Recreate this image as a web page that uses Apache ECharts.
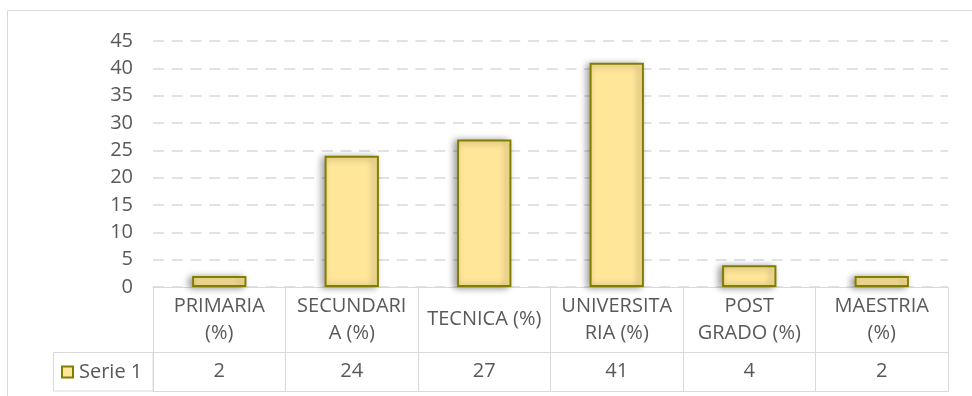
<!DOCTYPE html>
<html>
<head>
<meta charset="utf-8">
<script src="https://cdn.jsdelivr.net/npm/echarts@6/dist/echarts.min.js"></script>
<style>
  html, body { margin: 0; padding: 0; background: #ffffff; }
  #chart { width: 972px; height: 396px; }
</style>
</head>
<body>
<div id="chart"></div>
<script>
// Education level shares (percent) shown as bars with a data table beneath
const categories = ['PRIMARIA\n(%)', 'SECUNDARI\nA (%)', 'TECNICA (%)', 'UNIVERSITA\nRIA (%)', 'POST\nGRADO (%)', 'MAESTRIA\n(%)'];
const values = [2, 24, 27, 41, 4, 2];
const seriesName = 'Serie 1';
const yMin = 0;
const yMax = 45;
const yStep = 5;

// Layout
const gridLeft = 153, gridRight = 24, gridTop = 41, gridBottom = 109;
const headerRow = 65.5, tableHeight = 104;
const keyCellLeft = 53;

const textColor = '#595959';
const lineColor = '#d9d9d9';
const fontFamily = '"Open Sans", sans-serif';
const fontSize = 20;
const barFill = '#ffe699';
const barEdge = '#807f00';

const chart = echarts.init(document.getElementById('chart'), null, { renderer: 'canvas' });
const H = 396;
const axisY = H - gridBottom;

chart.setOption({
  animation: false,
  backgroundColor: '#ffffff',
  textStyle: { fontFamily: fontFamily },
  grid: { left: gridLeft, right: gridRight, top: gridTop, bottom: gridBottom, containLabel: false },
  legend: {
    show: true,
    data: [seriesName],
    left: 61,
    top: 361,
    padding: 0,
    icon: 'rect',
    itemWidth: 11,
    itemHeight: 11,
    itemGap: 0,
    itemStyle: { borderColor: barEdge, borderWidth: 2, shadowBlur: 0, shadowOffsetX: 0, shadowOffsetY: 0 },
    textStyle: { color: textColor, fontSize: fontSize, fontFamily: fontFamily, lineHeight: 22, padding: [0, 0, 0, 1] }
  },
  xAxis: [
    {
      type: 'category',
      data: categories,
      position: 'bottom',
      boundaryGap: true,
      axisLine: { show: true, lineStyle: { color: lineColor, width: 1 } },
      axisTick: { show: true, interval: 0, length: tableHeight, alignWithLabel: false, lineStyle: { color: lineColor, width: 1 } },
      axisLabel: {
        interval: 0, margin: headerRow / 2, verticalAlign: 'middle', align: 'center',
        color: textColor, fontSize: fontSize, lineHeight: 27, fontFamily: fontFamily
      },
      splitLine: { show: false }
    },
    {
      type: 'category',
      data: categories,
      position: 'bottom',
      offset: headerRow,
      axisLine: { show: true, lineStyle: { color: lineColor, width: 1 } },
      axisTick: { show: false },
      axisLabel: {
        interval: 0, margin: (tableHeight - headerRow) / 2, verticalAlign: 'middle', align: 'center',
        color: textColor, fontSize: fontSize, fontFamily: fontFamily,
        formatter: function (v, i) { return String(values[i]); }
      }
    },
    {
      type: 'category',
      data: categories,
      position: 'bottom',
      offset: tableHeight,
      axisLine: { show: true, lineStyle: { color: lineColor, width: 1 } },
      axisTick: { show: false },
      axisLabel: { show: false }
    }
  ],
  yAxis: {
    type: 'value',
    min: yMin,
    max: yMax,
    interval: yStep,
    axisLine: { show: false },
    axisTick: { show: false },
    axisLabel: { color: textColor, fontSize: fontSize, margin: 20, fontFamily: fontFamily },
    splitLine: { show: true, lineStyle: { color: lineColor, width: 1.5, type: [11, 7.75] } }
  },
  series: [{
    name: seriesName,
    type: 'bar',
    xAxisIndex: 0,
    data: values,
    barWidth: '41%',
    itemStyle: {
      color: barFill,
      borderColor: barEdge,
      borderWidth: 2,
      shadowBlur: 7,
      shadowColor: 'rgba(0,0,0,0.4)',
      shadowOffsetX: -3,
      shadowOffsetY: 1
    },
    z: 3
  }],
  graphic: [
    // outer chart frame
    {
      type: 'rect', silent: true, z: -1,
      shape: { x: 7.5, y: 10.5, width: 1000, height: 500 },
      style: { fill: null, stroke: lineColor, lineWidth: 1 }
    },
    // legend key cell of the data table
    {
      type: 'rect', silent: true,
      shape: { x: keyCellLeft + 0.5, y: axisY + headerRow, width: gridLeft - keyCellLeft - 0.5, height: tableHeight - headerRow },
      style: { fill: null, stroke: lineColor, lineWidth: 1 }
    }
  ]
});
</script>
</body>
</html>
